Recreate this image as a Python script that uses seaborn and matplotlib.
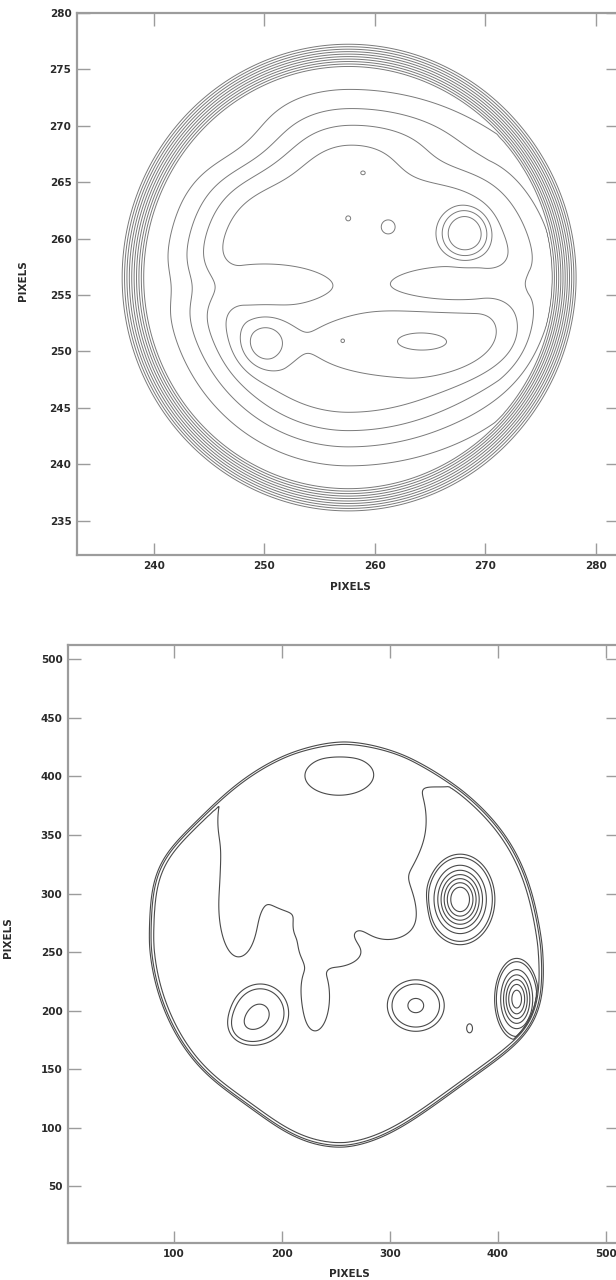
import numpy as np
import matplotlib
matplotlib.use("Agg")
import matplotlib.pyplot as plt
import seaborn as sns

# ---------------- upper map (zoomed detector window) ----------------
top_xlim = (233.03, 282.0)
top_ylim = (231.96, 280.0)
top_xticks = [240, 250, 260, 270, 280]
top_yticks = [235, 240, 245, 250, 255, 260, 265, 270, 275, 280]

# aperture: centre, semi-axes, rim width (normalised), rim height
top_center = (257.6, 256.55)
top_axes = (20.7, 20.9)
top_rim_width = 0.11
top_rim_height = 10.5
# inner plateau: height, width of the rise, semi-axis on the right-hand side
top_plateau_height = 4.1
top_plateau_rise = 0.42
top_plateau_right = 26.0

# inner structure: x, y, sigma_x, sigma_y, amplitude, shape exponent
top_cx = [250.0, 267.5, 272.5, 262.8, 250.04, 268.14, 257.07, 263.8, 258.94, 257.58, 261.2, 265.5, 249.5]
top_cy = [255.8, 255.9, 250.0, 250.9, 250.72, 260.47, 250.95, 250.9, 265.84, 261.8, 261.05, 266.5, 267.5]
top_sx = [4.5, 4.5, 4.5, 9.9, 1.5, 2.2, 0.35, 2.4, 0.5, 0.35, 0.8, 3.5, 3.5]
top_sy = [1.5, 1.3, 3.2, 3.5, 1.5, 2.2, 0.35, 0.9, 0.4, 0.35, 0.8, 1.8, 2.5]
top_amp = [-1.4, -1.4, 0.6, 0.75, 2.2, 3.0, 0.8, 0.8, 0.6, 0.5, 0.55, -0.8, -1.0]
top_pow = [1, 1, 1, 2, 1, 2, 1, 1, 1, 1, 1, 1, 1]
top_levels = list(range(1, 18))

# ---------------- lower map (full frame) ----------------
bot_xlim = (1.6, 511.3)
bot_ylim = (1.7, 512.2)
bot_xticks = [100, 200, 300, 400, 500]
bot_yticks = [50, 100, 150, 200, 250, 300, 350, 400, 450, 500]

bot_center = (257.5, 255.5)
bot_axes = (181.0, 176.0)
bot_shape_pow = 1.8
bot_rim_width = 6.0
bot_base = 0.15
# rim distortions: angle (deg), width (rad), relative shift
rim_theta = [-58.0, -122.0, -20.0, 158.0, 30.0]
rim_width = [0.45, 0.3, 0.3, 0.25, 0.4]
rim_shift = [0.065, 0.04, -0.07, -0.05, -0.025]

# surface components: x, y, sigma_x, sigma_y, amplitude, shape exponent
bot_cx = [237.0, 250.0, 160.0, 230.0, 245.0, 238.0, 298.0, 352.0,
          252.6, 365.0, 417.4, 323.9, 179.7, 165.0, 373.8]
bot_cy = [362.0, 432.0, 290.0, 212.0, 250.0, 268.0, 285.0, 410.0,
          400.5, 295.0, 209.9, 204.4, 197.9, 185.0, 184.9]
bot_sx = [100.0, 110.0, 20.0, 15.0, 30.0, 28.0, 32.0, 30.0,
          36.0, 15.0, 10.0, 18.0, 18.0, 12.0, 3.5]
bot_sy = [85.0, 12.0, 48.0, 32.0, 14.0, 17.0, 26.0, 20.0,
          19.0, 18.0, 17.0, 15.0, 17.0, 10.0, 5.0]
bot_amp = [-0.17, -0.17, -0.17, -0.17, -0.17, -0.17, -0.17, -0.17,
           0.16, 1.3, 1.05, 0.38, 0.38, 0.12, 0.17]
bot_pow = [4, 2, 2, 2, 2, 2, 2, 2,
           2, 1, 1, 1, 1, 1, 1]
bot_levels = [0.3, 0.6, 1.07, 1.28, 1.33, 1.5, 1.65, 1.8, 1.95, 2.1, 2.25]


def components(X, Y, cx, cy, sx, sy, amp, pw):
    out = np.zeros_like(X)
    for x0, y0, a, b, h, p in zip(cx, cy, sx, sy, amp, pw):
        q = ((X - x0) / a) ** 2 + ((Y - y0) / b) ** 2
        if p == 1:
            out += h * np.exp(-0.5 * q)
        else:
            out += h * np.exp(-q ** p)
    return out


def smoothstep(t):
    t = np.clip(t, 0, 1)
    return t * t * (3 - 2 * t)


# upper surface
tx = np.linspace(*top_xlim, 560)
ty = np.linspace(*top_ylim, 560)
TX, TY = np.meshgrid(tx, ty)
dx = TX - top_center[0]
dy = TY - top_center[1]
rho = np.hypot(dx / top_axes[0], dy / top_axes[1])
ax_g = np.where(dx > 0, top_plateau_right, top_axes[0])
rho_g = np.hypot(dx / ax_g, dy / top_axes[1])
inner_edge = 1.0 - top_rim_width
top_z = top_rim_height * np.clip((1.0 - rho) / top_rim_width, 0, 1)
top_z += top_plateau_height * smoothstep((inner_edge - rho_g) / top_plateau_rise)
mask = np.clip((inner_edge - rho) / 0.1, 0, 1)
top_z += mask * components(TX, TY, top_cx, top_cy, top_sx, top_sy, top_amp, top_pow)

# lower surface
bx = np.linspace(*bot_xlim, 700)
by = np.linspace(*bot_ylim, 700)
BX, BY = np.meshgrid(bx, by)
u = (BX - bot_center[0]) / bot_axes[0]
v = (BY - bot_center[1]) / bot_axes[1]
brho = (np.abs(u) ** bot_shape_pow + np.abs(v) ** bot_shape_pow) ** (1.0 / bot_shape_pow)
theta = np.arctan2(v, u)
scale = np.ones_like(brho)
for t0, w, s in zip(rim_theta, rim_width, rim_shift):
    d = np.angle(np.exp(1j * (theta - np.radians(t0))))
    scale += s * np.exp(-(d / w) ** 2)
brho = brho * scale
edge = np.clip((1.0 - brho) * bot_axes[0] / bot_rim_width, 0, 1)
bot_z = edge * (1.0 + bot_base + components(BX, BY, bot_cx, bot_cy, bot_sx, bot_sy, bot_amp, bot_pow))

# ---------------- figure ----------------
sns.set_theme(style="ticks")
plt.rcParams["font.family"] = ["DejaVu Sans"]

W, H = 616, 1280
fig = plt.figure(figsize=(W / 100, H / 100), dpi=100)
fig.patch.set_facecolor("white")

spine_c = "#9c9c9c"
text_c = "#2a2a2a"


def frame(left, top, right, bottom):
    return fig.add_axes([left / W, 1 - bottom / H, (right - left) / W, (bottom - top) / H])


def style(ax, xlim, ylim, xticks, yticks, xlab_pos, ylab_pos):
    ax.set_xlim(*xlim)
    ax.set_ylim(*ylim)
    ax.set_xticks(xticks)
    ax.set_yticks(yticks)
    for s in ax.spines.values():
        s.set_color(spine_c)
        s.set_linewidth(1.6)
        s.set_visible(True)
    ax.tick_params(direction="in", length=9, width=1.0, color=spine_c,
                   top=True, right=True, labelsize=7.5, labelcolor=text_c, pad=4)
    for lab in ax.get_xticklabels() + ax.get_yticklabels():
        lab.set_fontweight("bold")
    ax.set_xlabel("PIXELS", fontsize=7.5, fontweight="bold", color=text_c)
    ax.set_ylabel("PIXELS", fontsize=7.5, fontweight="bold", color=text_c)
    ax.xaxis.set_label_coords(*xlab_pos)
    ax.yaxis.set_label_coords(*ylab_pos)
    ax.set_facecolor("white")
    ax.grid(False)


ax1 = frame(77, 13, 618, 555)
ax1.contour(TX, TY, top_z, levels=top_levels, colors="#7a7a7a", linewidths=0.7)
style(ax1, top_xlim, top_ylim, top_xticks, top_yticks, (0.506, -0.05), (-0.09, 0.507))

ax2 = frame(68, 645, 618, 1243)
ax2.contour(BX, BY, bot_z, levels=bot_levels, colors="#4a4a4a", linewidths=0.8)
style(ax2, bot_xlim, bot_ylim, bot_xticks, bot_yticks, (0.511, -0.043), (-0.1, 0.51))

fig.savefig("out.png", dpi=100, facecolor="white")
